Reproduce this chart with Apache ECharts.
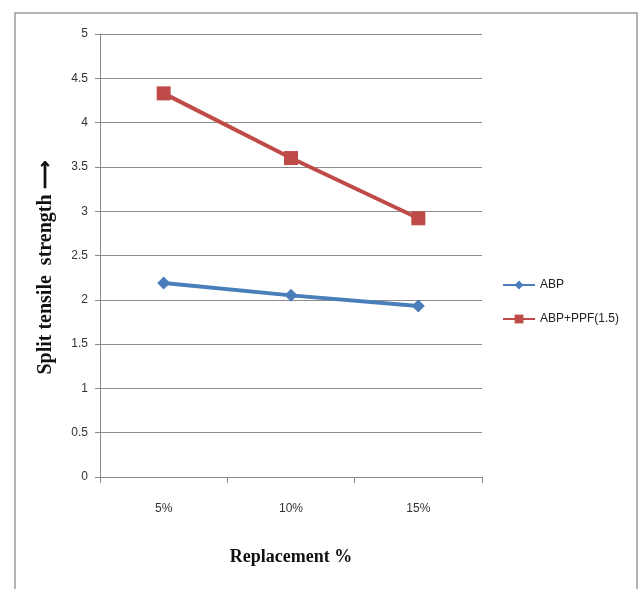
<!DOCTYPE html>
<html><head><meta charset="utf-8">
<script src="https://cdn.jsdelivr.net/npm/echarts@6/dist/echarts.min.js"></script>
<style>html,body{margin:0;padding:0;background:#fff}#c{width:641px;height:589px}</style>
</head><body><div id="c"></div>
<script>
const categories = ['5%', '10%', '15%'];
const abp = [2.19, 2.05, 1.93];
const abpPpf = [4.33, 3.6, 2.92];
const seriesNames = ['ABP', 'ABP+PPF(1.5)'];

const chart = echarts.init(document.getElementById('c'));
chart.setOption({
  animation: false,
  backgroundColor: '#fff',
  graphic: [{
    type: 'rect', shape: {x: 15, y: 13, width: 622, height: 590},
    style: {fill: 'none', stroke: '#9a9a9a', lineWidth: 1.5}
  }],
  grid: {left: 100, right: 159, top: 34, bottom: 112},
  legend: {
    orient: 'vertical', left: 497, top: 274, itemGap: 22,
    itemWidth: 32, itemHeight: 11,
    textStyle: {fontFamily: 'Liberation Sans', fontSize: 12, color: '#222'},
    data: seriesNames
  },
  xAxis: {
    type: 'category', data: categories, boundaryGap: true,
    name: 'Replacement %', nameLocation: 'middle', nameGap: 71,
    nameTextStyle: {fontFamily: 'Liberation Serif', fontWeight: 'bold', fontSize: 18, color: '#111'},
    axisLine: {lineStyle: {color: '#888', width: 1}},
    axisTick: {show: true, length: 6, lineStyle: {color: '#888'}},
    axisLabel: {margin: 26, fontFamily: 'Liberation Sans', fontSize: 12, color: '#333'}
  },
  yAxis: {
    type: 'value', min: 0, max: 5, interval: 0.5,
    name: 'Split tensile  strength \u27F6', nameLocation: 'middle', nameGap: 44, nameRotate: 90,
    nameTextStyle: {fontFamily: 'Liberation Serif', fontWeight: 'bold', fontSize: 20, color: '#111', padding: [0, 24, 0, 0]},
    axisLine: {show: true, lineStyle: {color: '#888', width: 1}},
    axisTick: {show: true, length: 5, lineStyle: {color: '#888'}},
    splitLine: {lineStyle: {color: '#8c8c8c', width: 1}},
    axisLabel: {margin: 12, fontFamily: 'Liberation Sans', fontSize: 12, color: '#333'}
  },
  series: [{
    name: seriesNames[0], type: 'line', data: abp,
    symbol: 'diamond', symbolSize: 13,
    itemStyle: {color: '#4a7ebb'}, lineStyle: {color: '#4a7ebb', width: 4}
  }, {
    name: seriesNames[1], type: 'line', data: abpPpf,
    symbol: 'rect', symbolSize: 14,
    itemStyle: {color: '#be4b48'}, lineStyle: {color: '#be4b48', width: 4}
  }]
});
</script></body></html>
